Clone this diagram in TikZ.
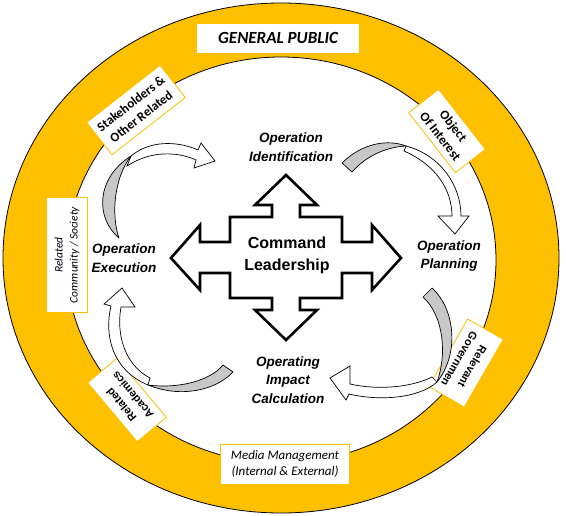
\documentclass[tikz,border=0pt]{standalone}
\usepackage{fontspec}
\newfontfamily\calfont{Carlito}
\newfontfamily\arifont{Liberation Sans}
\definecolor{gold}{HTML}{FFC000}
\definecolor{arrgray}{HTML}{C8C8C8}
\begin{document}
\begin{tikzpicture}[x=1pt,y=-1pt,
  lab/.style={draw=gold,fill=white,line width=0.8pt,align=center,inner sep=0pt},
  oplab/.style={align=center,inner sep=0pt,font=\arifont\bfseries\itshape\fontsize{13.5}{18.5}\selectfont},
  garr/.style={fill=arrgray,draw=black,line width=0.7pt,line join=round},
  warr/.style={fill=white,draw=black,line width=0.7pt,line join=miter},
  crossarrow/.style={fill=white,draw=black,line width=2.6pt,line join=miter}]
\useasboundingbox (0,0) rectangle (566,516);
% rings
\filldraw[fill=gold,draw=black,line width=0.8pt] (281,258) ellipse [x radius=278, y radius=255];
\filldraw[fill=white,draw=black,line width=0.8pt] (281,260) ellipse [x radius=215, y radius=203];
% boxes on the ring
\node[lab,minimum width=163pt,minimum height=30pt,font=\calfont\bfseries\itshape\fontsize{17}{20}\selectfont] (public) at (278,38) {GENERAL PUBLIC};
\node[lab,minimum width=129pt,minimum height=40pt,font=\calfont\itshape\fontsize{13}{16.5}\selectfont] (media) at (285,464) {Media Management\\(Internal \& External)};
\node[lab,rotate=38,minimum width=93pt,minimum height=41pt,font=\calfont\bfseries\fontsize{13}{16.5}\selectfont] (stake) at (136,110) {Stakeholders \&\\Other Related};
\node[lab,rotate=-52,minimum width=76pt,minimum height=38pt,font=\calfont\bfseries\fontsize{13}{16.5}\selectfont] (object) at (447,131) {Object\\Of Interest};
\node[lab,rotate=90,minimum width=115pt,minimum height=41pt,font=\calfont\itshape\fontsize{11.5}{15}\selectfont] (community) at (67,255) {Related\\Community / Society};
\node[lab,rotate=-120,minimum width=78pt,minimum height=41pt,font=\arifont\bfseries\fontsize{11}{15}\selectfont] (gov) at (466,363) {Relevant\\Governmen};
\node[lab,rotate=130,minimum width=77pt,minimum height=38pt,font=\arifont\bfseries\fontsize{11}{15}\selectfont] (acad) at (127,400) {Related\\Academics};
% curved arrow 1 (top left)
\filldraw[warr] (131,156) .. controls (150,140) and (178,141) .. (198,150) -- (201,143) -- (215,161) -- (194,168) -- (196,160) .. controls (176,151) and (150,151) .. (127,166) -- cycle;
\filldraw[garr] (119,238) .. controls (95,218) and (96,178) .. (131,156) .. controls (114,178) and (111,215) .. (119,238) -- cycle;
% curved arrow 2 (top right)
\filldraw[warr] (406,146) .. controls (440,155) and (461,185) .. (461,216) -- (469,216) -- (455,234) -- (438,216) -- (452,216) .. controls (452,190) and (436,165) .. (404,151) -- cycle;
\filldraw[garr] (342,163) .. controls (362,143) and (388,139) .. (406,146) .. controls (385,147) and (365,157) .. (352,172) -- cycle;
% curved arrow 3 (bottom right)
\filldraw[warr] (437,382) .. controls (418,399) and (378,401) .. (349,394) -- (346,400) -- (330,378) -- (350,366) -- (350,384) .. controls (376,390) and (410,388) .. (432,377) -- cycle;
\filldraw[garr] (432,288) .. controls (456,310) and (459,355) .. (437,382) .. controls (447,355) and (444,316) .. (423,297) -- cycle;
% curved arrow 4 (bottom left)
\filldraw[warr] (148,385) .. controls (112,370) and (104,335) .. (111,306) -- (104,304) -- (122,288) -- (135,307) -- (121,307) .. controls (116,335) and (125,365) .. (150,378) -- cycle;
\filldraw[garr] (233,372) .. controls (215,391) and (180,398) .. (148,385) .. controls (178,389) and (210,381) .. (223,365) -- cycle;
% central four-headed arrow
\filldraw[crossarrow] (286,175) -- (317,205) -- (300,205) -- (300,217) -- (342,217) -- (342,242) -- (372,242) -- (372,225) -- (401,258) -- (372,290) -- (372,273) -- (342,273) -- (342,298) -- (300,298) -- (300,310) -- (317,310) -- (286,340) -- (255,310) -- (272,310) -- (272,298) -- (230,298) -- (230,273) -- (200,273) -- (200,290) -- (171,258) -- (200,225) -- (200,242) -- (230,242) -- (230,217) -- (272,217) -- (272,205) -- (255,205) -- cycle;
\node[align=center,inner sep=0pt,font=\arifont\bfseries\fontsize{16}{22}\selectfont] (cmd) at (287,255) {Command\\Leadership};
% stage labels
\node[oplab] (ident) at (291,147) {Operation\\Identification};
\node[oplab] (plan) at (449,256) {Operation\\Planning};
\node[oplab] (exec) at (124,258) {Operation\\Execution};
\node[oplab] (impact) at (288,380) {Operating\\Impact\\Calculation};
\end{tikzpicture}
\end{document}
